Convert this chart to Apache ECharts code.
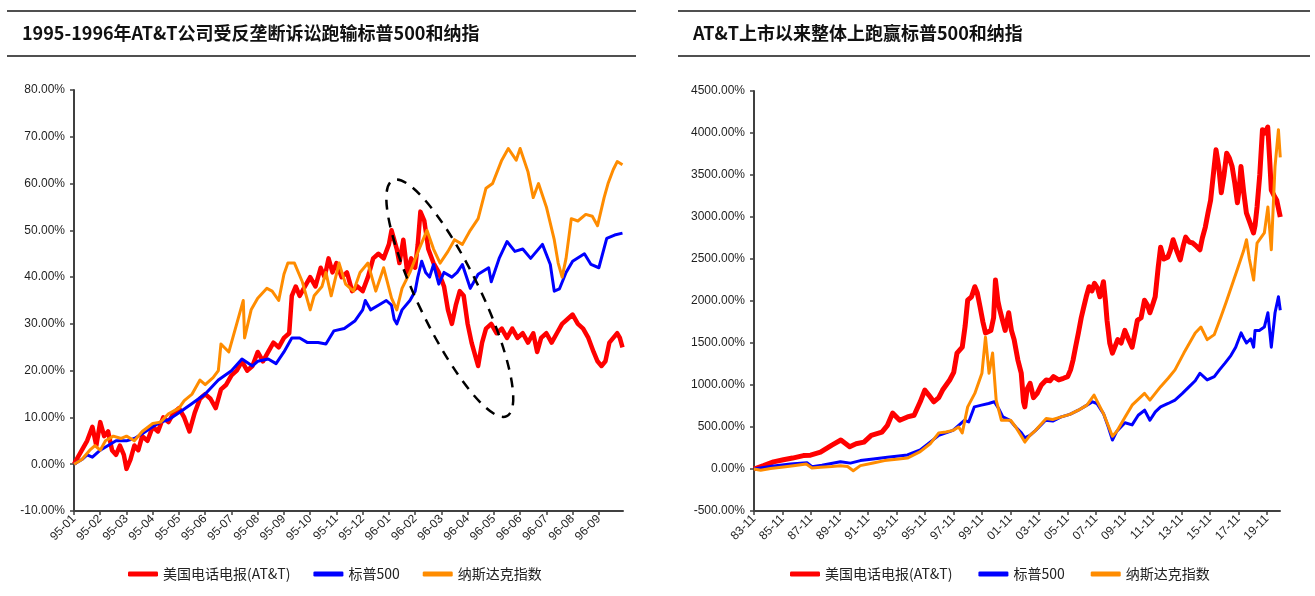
<!DOCTYPE html>
<html><head><meta charset="utf-8">
<script src="https://cdn.jsdelivr.net/npm/echarts@6/dist/echarts.min.js"></script>
<style>html,body{margin:0;padding:0;background:#fff}#c{width:1315px;height:596px}</style>
</head><body><div id="c"></div>
<script>
// ---------- texts ----------
const leftTitle = '1995-1996年AT&T公司受反垄断诉讼跑输标普500和纳指';
const rightTitle = 'AT&T上市以来整体上跑赢标普500和纳指';
const seriesNames = ['美国电话电报(AT&T)', '标普500', '纳斯达克指数'];

// ---------- left chart: x = months since 1995-01, y = cumulative return (%) ----------
const leftATT = [[0,0],[0.3,3],[0.5,5],[0.7,8],[0.85,4],[1.0,9],[1.15,6],[1.3,7],[1.45,3],[1.6,2],[1.75,4],[1.9,2],[2.0,-1],[2.15,1],[2.3,4],[2.45,3],[2.6,6],[2.8,5],[3.0,8],[3.2,7],[3.4,10],[3.6,9],[3.8,11],[4.0,12],[4.2,10],[4.4,7],[4.6,11],[4.8,14],[5.0,15],[5.2,14],[5.4,12],[5.6,16],[5.8,17],[6.0,19],[6.2,20],[6.4,22],[6.6,20],[6.8,21],[7.0,24],[7.2,22],[7.4,24],[7.6,26],[7.8,25],[8.0,27],[8.2,28],[8.3,36],[8.45,38],[8.6,36],[8.8,38],[9.0,40],[9.2,38],[9.4,42],[9.55,40],[9.7,44],[9.85,41],[10.0,43],[10.2,40],[10.4,41],[10.6,37],[10.8,38],[11.0,37],[11.2,40],[11.4,44],[11.6,45],[11.8,44],[12.0,47],[12.1,50],[12.3,46],[12.4,43],[12.55,48],[12.7,41],[12.85,44],[13.0,42],[13.1,47],[13.2,54],[13.35,52],[13.5,46],[13.7,43],[13.9,41],[14.1,38],[14.25,33],[14.4,30],[14.55,34],[14.7,37],[14.85,36],[15.0,30],[15.15,26],[15.3,23],[15.4,21],[15.55,26],[15.7,29],[15.9,30],[16.1,28],[16.3,29],[16.5,27],[16.7,29],[16.9,27],[17.1,28],[17.3,26],[17.5,28],[17.65,24],[17.8,27],[18.0,28],[18.2,26],[18.4,28],[18.6,30],[18.8,31],[19.0,32],[19.2,30],[19.4,29],[19.6,27],[19.8,24],[19.95,22],[20.1,21],[20.25,22],[20.4,26],[20.55,27],[20.7,28],[20.8,27],[20.9,25]];
const leftSPX = [[0,0],[0.3,1],[0.5,2],[0.7,1.5],[1.0,3],[1.3,4],[1.6,5],[2.0,5],[2.3,5.5],[2.6,6.5],[3.0,8],[3.3,9],[3.6,9.5],[4.0,11],[4.5,13],[5.0,15],[5.5,18],[6.0,20],[6.4,22.5],[6.8,21],[7.0,22],[7.4,22.5],[7.7,21.5],[8.0,24],[8.3,27],[8.6,27],[8.9,26],[9.3,26],[9.6,25.7],[9.9,28.5],[10.3,29],[10.7,30.6],[11.0,33],[11.1,35],[11.3,33],[11.6,34],[11.9,35],[12.1,34],[12.2,31],[12.3,30],[12.5,33],[12.8,35],[13.0,37],[13.1,40],[13.25,43.4],[13.4,41],[13.55,40],[13.7,42.7],[13.9,38.5],[14.1,41],[14.4,40],[14.6,41],[14.8,42.7],[15.1,37.6],[15.4,40.6],[15.8,42],[15.9,39],[16.2,44],[16.5,47.6],[16.8,45.5],[17.1,46],[17.4,44],[17.85,47],[18.15,42.7],[18.3,37],[18.5,37.5],[18.75,41],[19.0,43.4],[19.45,45],[19.7,42.7],[20.0,42],[20.3,48.3],[20.6,49],[20.9,49.4]];
const leftNDX = [[0,0],[0.3,1],[0.6,3],[0.8,4],[1.0,3],[1.2,5],[1.5,6],[1.8,5.5],[2.0,6],[2.3,5],[2.6,7],[3.0,8.7],[3.3,9],[3.6,10.8],[4.0,12],[4.2,13.6],[4.5,15],[4.8,18],[5.0,17],[5.3,18.5],[5.5,20],[5.6,25.7],[5.9,24],[6.2,30],[6.4,34],[6.45,35],[6.5,27],[6.75,33],[7.0,35.5],[7.35,37.6],[7.55,37],[7.8,35],[8.0,40.6],[8.15,43],[8.4,43],[8.7,39],[9.0,33],[9.15,36],[9.45,38],[9.6,41],[9.8,36],[10.1,43],[10.35,38.5],[10.65,37],[10.9,41],[11.2,43],[11.5,37],[11.8,42],[12.1,35.5],[12.3,33],[12.5,37.6],[12.8,41],[13.15,46],[13.45,50],[13.7,46],[13.95,43],[14.25,45.5],[14.5,48],[14.8,47],[15.1,50],[15.4,52.5],[15.7,59],[15.95,60],[16.3,65],[16.55,67.5],[16.85,65],[17.0,67.5],[17.3,62.5],[17.5,57],[17.7,60],[18.0,55],[18.3,48],[18.45,43],[18.6,40],[18.75,44],[18.95,52.5],[19.2,52],[19.5,53.4],[19.75,53],[19.95,51],[20.2,57],[20.35,60],[20.55,63],[20.7,64.7],[20.9,64]];

// ---------- right chart: x = decimal year, y = cumulative return (%) ----------
const rightATT = [[1983.83,0],[1984.5,40],[1985.2,85],[1985.9,110],[1986.54,130],[1987.3,160],[1987.8,165],[1988.5,200],[1989.3,285],[1989.93,345],[1990.55,265],[1991.0,300],[1991.55,320],[1992.06,400],[1992.81,440],[1993.2,520],[1993.56,665],[1994.06,580],[1994.6,620],[1995.07,640],[1995.5,800],[1995.82,940],[1996.1,880],[1996.45,800],[1996.8,850],[1997.07,940],[1997.57,1060],[1997.85,1150],[1998.08,1380],[1998.45,1450],[1998.65,1700],[1998.83,2010],[1999.1,2050],[1999.33,2170],[1999.5,2100],[1999.7,1930],[1999.9,1750],[2000.08,1620],[2000.46,1650],[2000.65,1800],[2000.78,2250],[2000.95,2000],[2001.09,1890],[2001.46,1650],[2001.71,1860],[2001.9,1650],[2002.09,1540],[2002.35,1300],[2002.59,1140],[2002.75,800],[2002.84,740],[2003.0,950],[2003.21,1020],[2003.45,850],[2003.71,900],[2004.0,1000],[2004.34,1060],[2004.6,1050],[2004.85,1100],[2005.22,1060],[2005.55,1080],[2005.85,1100],[2006.05,1180],[2006.23,1300],[2006.4,1450],[2006.6,1620],[2006.8,1800],[2006.98,1930],[2007.15,2050],[2007.35,2170],[2007.55,2120],[2007.73,2210],[2007.95,2150],[2008.11,2050],[2008.36,2230],[2008.5,2000],[2008.61,1770],[2008.8,1500],[2008.99,1380],[2009.36,1540],[2009.6,1500],[2009.86,1650],[2010.1,1550],[2010.37,1450],[2010.55,1600],[2010.74,1770],[2011.0,1800],[2011.24,2010],[2011.45,1950],[2011.62,1860],[2011.8,1950],[2011.99,2050],[2012.2,2400],[2012.37,2640],[2012.6,2500],[2012.87,2520],[2013.05,2600],[2013.25,2730],[2013.5,2600],[2013.75,2490],[2013.95,2650],[2014.13,2760],[2014.4,2700],[2014.63,2690],[2014.9,2650],[2015.13,2610],[2015.3,2750],[2015.51,2880],[2015.7,3050],[2015.88,3200],[2016.1,3550],[2016.26,3800],[2016.45,3600],[2016.63,3290],[2016.82,3500],[2017.01,3760],[2017.2,3700],[2017.39,3600],[2017.58,3400],[2017.76,3170],[2017.9,3350],[2018.01,3600],[2018.2,3300],[2018.39,3050],[2018.6,2950],[2018.89,2810],[2019.0,2900],[2019.14,3120],[2019.33,3500],[2019.52,4040],[2019.7,4000],[2019.89,4070],[2020.02,3700],[2020.14,3320],[2020.35,3250],[2020.52,3200],[2020.77,3000]];
const rightSPX = [[1983.83,0],[1985.2,35],[1986.4,60],[1987.55,75],[1987.9,28],[1988.6,45],[1989.9,87],[1990.6,70],[1991.3,100],[1992.2,119],[1993.2,140],[1994.0,155],[1994.6,167],[1995.5,226],[1996.2,320],[1996.8,400],[1997.3,430],[1997.8,460],[1998.2,520],[1998.6,580],[1998.9,560],[1999.3,740],[1999.8,760],[2000.3,780],[2000.7,800],[2001.0,720],[2001.3,620],[2001.8,580],[2002.2,500],[2002.6,430],[2002.84,370],[2003.2,400],[2003.6,460],[2004.3,580],[2004.8,570],[2005.35,617],[2006.0,650],[2006.6,700],[2007.2,760],[2007.6,800],[2007.9,780],[2008.36,660],[2008.7,500],[2008.99,345],[2009.3,450],[2009.87,550],[2010.37,525],[2010.8,640],[2011.25,700],[2011.62,580],[2012.0,680],[2012.37,740],[2012.9,780],[2013.38,820],[2013.9,900],[2014.38,980],[2014.8,1050],[2015.13,1140],[2015.64,1060],[2016.14,1100],[2016.5,1180],[2016.89,1260],[2017.3,1350],[2017.64,1450],[2018.02,1620],[2018.2,1560],[2018.4,1500],[2018.7,1550],[2018.9,1450],[2019.0,1650],[2019.3,1650],[2019.65,1690],[2019.9,1860],[2020.14,1450],[2020.4,1860],[2020.64,2050],[2020.77,1890]];
const rightNDX = [[1983.83,0],[1984.3,-15],[1985.0,5],[1985.9,25],[1986.6,40],[1987.5,60],[1987.9,12],[1988.5,20],[1989.3,30],[1989.9,40],[1990.4,30],[1990.8,-20],[1991.3,40],[1992.2,71],[1993.0,100],[1994.0,120],[1994.6,130],[1995.5,206],[1996.2,300],[1996.8,430],[1997.3,440],[1997.8,460],[1998.2,500],[1998.45,430],[1998.83,740],[1999.33,900],[1999.83,1140],[2000.08,1570],[2000.33,1140],[2000.58,1380],[2000.83,820],[2001.2,580],[2001.84,580],[2002.2,500],[2002.6,390],[2002.84,320],[2003.2,400],[2003.6,460],[2004.34,600],[2004.8,590],[2005.35,617],[2006.0,650],[2006.6,700],[2007.2,760],[2007.7,880],[2008.36,660],[2008.99,390],[2009.3,450],[2009.87,617],[2010.37,760],[2011.24,900],[2011.62,820],[2012.37,980],[2012.9,1080],[2013.38,1180],[2014.0,1380],[2014.8,1620],[2015.2,1690],[2015.64,1540],[2016.14,1600],[2016.6,1810],[2017.0,2000],[2017.4,2200],[2017.8,2400],[2018.2,2600],[2018.4,2730],[2018.6,2500],[2018.9,2250],[2019.0,2450],[2019.14,2690],[2019.65,2810],[2019.9,3120],[2020.14,2610],[2020.4,3600],[2020.64,4040],[2020.77,3710]];

// axis settings (data ranges)
const leftYMin = -10, leftYMax = 80, leftYStep = 10;
const rightYMin = -500, rightYMax = 4500, rightYStep = 500;
const rightStartYear = 1983 + 10 / 12; // 1983-11

// ellipse annotation anchor (data space of left chart)
const ellipseCenter = [14.32, 35.5];

const colors = ['#FF0000', '#0000FF', '#FF8C00'];
const widthsLeft = [4.5, 3, 3];
const widthsRight = [5, 3, 3];

const pad = n => (n < 10 ? '0' : '') + n;
function leftMonthLabel(v) {
  if (Math.abs(v - Math.round(v)) > 1e-6 || v > 20.5) return '';
  const y = 95 + Math.floor(v / 12), m = (v % 12) + 1;
  return pad(y % 100) + '-' + pad(m);
}
function rightMonthLabel(v) {
  if (Math.abs(v % 24) > 1e-6 || v > 440) return '';
  const total = 1983 * 12 + 10 + v;
  const y = Math.floor(total / 12), m = total % 12 + 1;
  return pad(y % 100) + '-' + pad(m);
}
const toMonths = arr => arr.map(p => [(p[0] - rightStartYear) * 12, p[1]]);

const axisColor = '#404040';
const labelColor = '#1f1f1f';
const fontFam = '"Liberation Sans", Arial, sans-serif';

function yAxis(gi, min, max, step) {
  return {
    type: 'value', gridIndex: gi, min, max, interval: step,
    axisLine: { show: true, lineStyle: { color: axisColor, width: 2 } },
    axisTick: { show: true, length: 4, lineStyle: { color: axisColor, width: 1.5 } },
    splitLine: { show: false },
    axisLabel: { color: labelColor, fontSize: 12, fontFamily: fontFam, margin: 9,
      formatter: v => v.toFixed(2) + '%' }
  };
}
function xAxis(gi, min, max, step, fmt) {
  return {
    type: 'value', gridIndex: gi, min, max, interval: step,
    axisLine: { show: true, onZero: false, lineStyle: { color: axisColor, width: 2 } },
    axisTick: { show: true, length: 4, lineStyle: { color: axisColor, width: 1.5 } },
    splitLine: { show: false },
    axisLabel: { color: labelColor, fontSize: 12, fontFamily: fontFam, rotate: 45, margin: 6,
      showMinLabel: true, showMaxLabel: false, formatter: fmt }
  };
}
function line(name, idx, xi, data, w) {
  return {
    name, type: 'line', xAxisIndex: xi, yAxisIndex: xi, data,
    showSymbol: false, symbol: 'none', smooth: false,
    lineStyle: { color: colors[idx], width: w, join: 'round' },
    itemStyle: { color: colors[idx] }, z: 2 + idx
  };
}
function legend(left, gap) {
  return {
    left, top: 567, padding: 0, itemWidth: 30, itemHeight: 5, itemGap: gap, icon: 'roundRect',
    data: seriesNames, textStyle: { fontSize: 14, color: '#222', fontFamily: '"Noto Sans CJK SC", sans-serif' }
  };
}
function titleGraphics(x0, x1, tx, text) {
  return [
    { type: 'line', shape: { x1: x0, y1: 11, x2: x1, y2: 11 }, style: { stroke: '#505050', lineWidth: 2 } },
    { type: 'line', shape: { x1: x0, y1: 56, x2: x1, y2: 56 }, style: { stroke: '#505050', lineWidth: 2 } },
    { type: 'text', x: tx, y: 33, style: { text, fill: '#111', font: 'bold 18px "Noto Sans CJK SC", sans-serif', textVerticalAlign: 'middle' } }
  ];
}

const chart = echarts.init(document.getElementById('c'), null, { renderer: 'canvas' });
chart.setOption({
  animation: false,
  backgroundColor: '#fff',
  grid: [
    { left: 74, top: 90, width: 549, height: 421 },
    { left: 754, top: 91, width: 526, height: 420 }
  ],
  xAxis: [
    xAxis(0, 0, 20.92, 1, leftMonthLabel),
    xAxis(1, 0, 443, 24, rightMonthLabel)
  ],
  yAxis: [
    yAxis(0, leftYMin, leftYMax, leftYStep),
    yAxis(1, rightYMin, rightYMax, rightYStep)
  ],
  legend: [legend(128, 23), legend(790, 26)],
  series: [
    line(seriesNames[0], 0, 0, leftATT, widthsLeft[0]),
    line(seriesNames[1], 1, 0, leftSPX, widthsLeft[1]),
    line(seriesNames[2], 2, 0, leftNDX, widthsLeft[2]),
    line(seriesNames[0], 0, 1, toMonths(rightATT), widthsRight[0]),
    line(seriesNames[1], 1, 1, toMonths(rightSPX), widthsRight[1]),
    line(seriesNames[2], 2, 1, toMonths(rightNDX), widthsRight[2])
  ]
});

const c = chart.convertToPixel({ gridIndex: 0 }, ellipseCenter);
chart.setOption({
  graphic: [
    ...titleGraphics(7, 636, 22, leftTitle),
    ...titleGraphics(678, 1310, 693, rightTitle),
    { type: 'ellipse', x: c[0], y: c[1], rotation: 0.45, z: 100,
      shape: { cx: 0, cy: 0, rx: 31, ry: 131 },
      style: { fill: 'none', stroke: '#000', lineWidth: 2.5, lineDash: [10, 8] } }
  ]
});
</script>
</body></html>
